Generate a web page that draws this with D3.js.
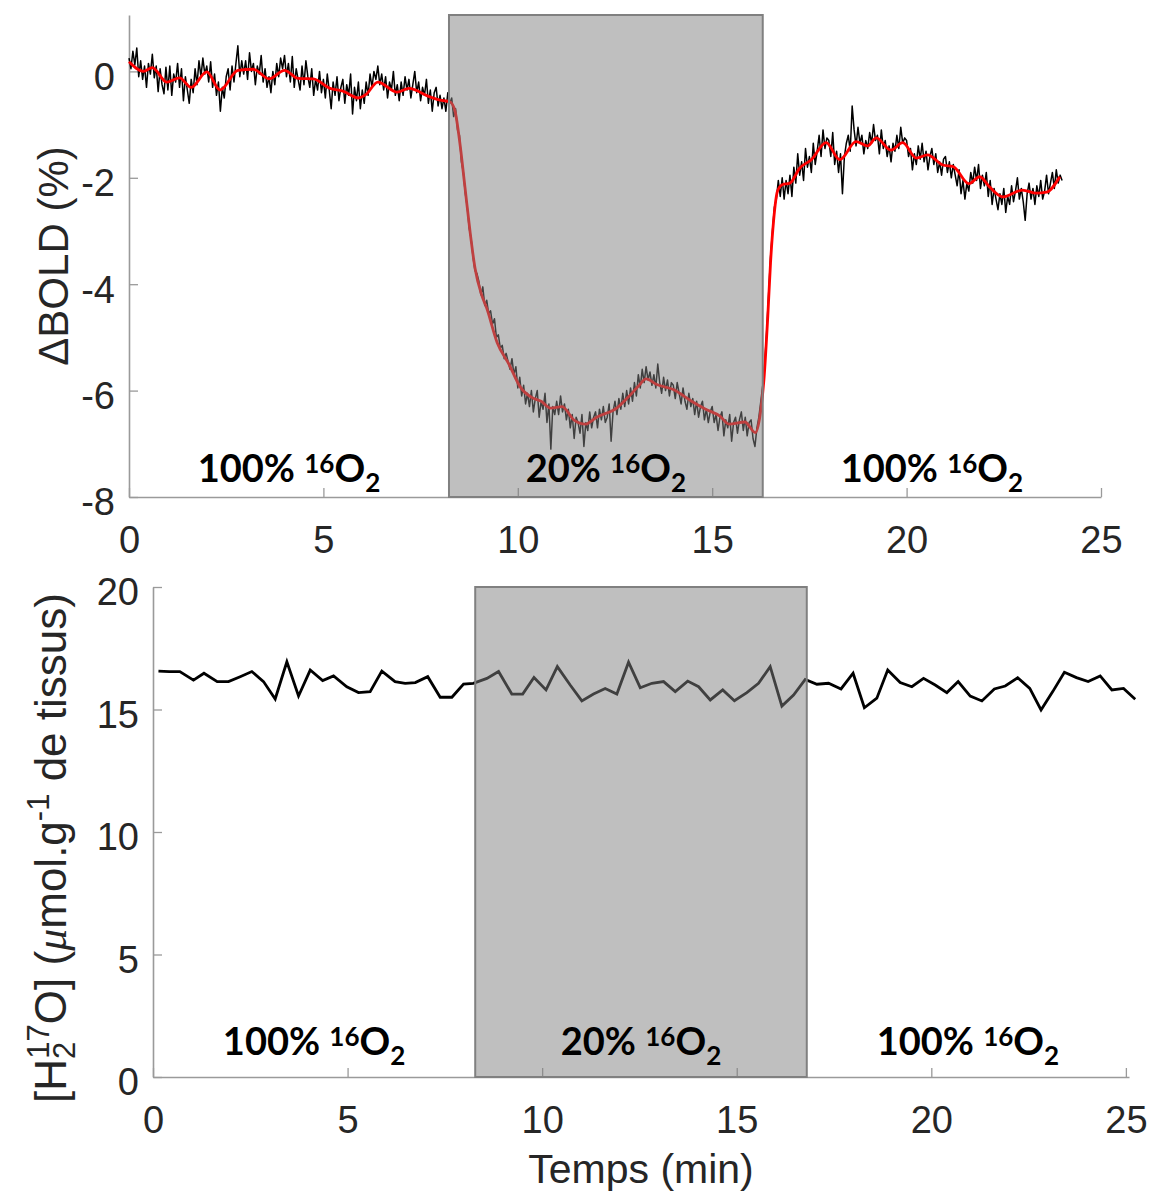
<!DOCTYPE html>
<html><head><meta charset="utf-8">
<script src="https://cdn.jsdelivr.net/npm/d3@7"></script>
<style>body{margin:0;background:#fff}text{white-space:pre}</style>
</head><body>
<svg id="c" width="1152" height="1196"></svg>
<script>
// ---- Data ----
const boldStep = 0.05; // min between BOLD samples, starting at t = 0
const boldValues = [
 0.25,0.05,0.38,0.12,0.44,-0.1,0.2,-0.15,0.1,-0.3,0.15,-0.05,0.32,-0.12,0.1,-0.38,0.05,-0.25,-0.42,0.08,
 -0.35,0.1,-0.45,-0.05,-0.2,0.15,-0.3,0.05,-0.55,-0.1,-0.35,-0.6,-0.15,-0.4,0.05,-0.25,0.2,-0.1,0.25,-0.05,
 0.1,-0.2,0.18,-0.3,-0.05,-0.45,-0.2,-0.75,-0.3,-0.5,-0.1,0.05,-0.35,0.1,-0.2,0.15,0.48,-0.1,0.2,-0.05,
 0.2,-0.15,0.35,0.0,0.15,-0.25,0.1,-0.05,0.3,-0.2,0.05,-0.3,-0.1,-0.4,0.0,-0.25,0.15,-0.1,0.25,0.05,
 0.3,-0.1,0.15,-0.2,0.28,-0.3,0.05,-0.15,-0.35,0.1,-0.25,0.2,-0.1,-0.3,0.05,-0.45,-0.15,-0.35,0.0,-0.4,
 -0.15,-0.5,-0.05,-0.35,-0.7,-0.2,-0.45,-0.1,-0.55,-0.3,-0.15,-0.6,-0.25,-0.45,-0.05,-0.8,-0.3,-0.55,-0.2,-0.7,
 -0.35,-0.6,-0.2,-0.45,-0.05,-0.3,0.0,-0.15,0.1,-0.25,-0.05,-0.35,-0.1,-0.5,-0.2,-0.35,0.0,-0.45,-0.25,-0.55,
 -0.2,-0.45,-0.1,-0.35,-0.15,-0.5,-0.25,0.0,-0.4,-0.2,-0.55,-0.3,-0.45,-0.15,-0.6,-0.35,-0.75,-0.4,-0.3,-0.65,
 -0.45,-0.7,-0.5,-0.75,-0.4,-0.6,-0.5,-0.85,-0.7,-1.1,-1.2,-1.7,-1.9,-2.3,-2.55,-2.95,-3.15,-3.5,-3.75,-3.8,
 -3.95,-4.2,-4.05,-4.4,-4.3,-4.55,-4.5,-4.75,-4.65,-5.0,-4.95,-5.2,-5.15,-5.4,-5.3,-5.45,-5.6,-5.4,-5.7,-5.55,
 -5.95,-5.75,-6.1,-5.9,-6.25,-6.05,-6.3,-6.0,-6.4,-6.15,-6.0,-6.5,-6.2,-6.35,-6.05,-6.6,-6.25,-7.1,-6.3,-6.45,
 -6.2,-6.45,-6.1,-6.4,-6.25,-6.55,-6.35,-6.7,-6.45,-6.9,-6.5,-6.6,-6.8,-6.45,-7.05,-6.6,-6.75,-6.4,-6.7,-6.5,
 -6.4,-6.7,-6.35,-6.55,-6.3,-6.6,-6.5,-6.25,-6.95,-6.4,-6.2,-6.45,-6.15,-6.35,-6.05,-6.3,-6.0,-6.25,-5.95,-6.2,
 -5.85,-6.1,-5.7,-5.95,-5.6,-5.85,-5.55,-5.8,-5.65,-5.9,-5.7,-5.95,-5.5,-5.85,-6.05,-5.75,-6.0,-5.8,-6.1,-5.85,
 -5.9,-6.15,-5.85,-6.05,-6.25,-5.95,-6.2,-6.35,-6.05,-6.3,-6.15,-6.45,-6.2,-6.5,-6.3,-6.2,-6.55,-6.35,-6.6,-6.4,
 -6.3,-6.6,-6.45,-6.75,-6.5,-6.4,-6.85,-6.55,-6.7,-6.45,-6.95,-6.6,-6.5,-6.8,-6.55,-6.4,-6.75,-6.5,-6.85,-6.6,
 -6.55,-6.9,-7.05,-6.7,-6.5,-6.2,-5.9,-5.5,-4.9,-4.2,-3.5,-3.0,-2.55,-2.4,-2.05,-2.35,-2.0,-2.4,-2.05,-2.3,
 -1.95,-2.35,-1.8,-2.1,-1.55,-1.95,-1.7,-2.05,-1.45,-1.8,-1.6,-1.9,-1.35,-1.75,-1.5,-1.2,-1.6,-1.1,-1.45,-1.25,
 -1.3,-1.6,-1.15,-1.75,-1.5,-1.9,-1.55,-2.3,-1.6,-1.35,-1.2,-1.5,-0.65,-1.1,-1.4,-1.05,-1.35,-1.2,-1.55,-1.3,
 -1.45,-1.15,-1.35,-1.0,-1.3,-1.2,-1.55,-1.1,-1.45,-1.3,-1.6,-1.4,-1.7,-1.35,-1.5,-1.2,-1.45,-1.05,-1.35,-1.25,
 -1.3,-1.6,-1.45,-1.85,-1.55,-1.75,-1.4,-1.65,-1.35,-1.7,-1.5,-1.85,-1.6,-1.45,-1.75,-1.55,-1.9,-1.7,-1.95,-1.65,
 -1.6,-1.9,-1.7,-2.0,-1.75,-1.95,-2.15,-1.85,-2.3,-2.05,-2.4,-2.1,-2.25,-1.9,-2.1,-1.8,-2.05,-1.75,-2.2,-1.95,
 -2.15,-1.9,-2.35,-2.05,-2.5,-2.2,-2.4,-2.6,-2.3,-2.5,-2.2,-2.65,-2.35,-2.5,-2.15,-2.45,-2.25,-2.0,-2.4,-2.2,
 -2.45,-2.8,-2.3,-2.1,-2.4,-2.2,-2.5,-2.15,-2.35,-2.05,-2.4,-2.25,-1.95,-2.3,-2.1,-1.9,-2.2,-1.85,-2.1,-1.95,
 -2.05
];
const smoothT = [0,0.37,0.6,0.97,1.3,1.6,2.0,2.34,2.8,3.2,3.6,4.0,4.35,4.74,5.17,5.5,5.9,6.1,6.4,6.9,7.2,7.74,8.0,8.25,8.38,8.5,8.64,8.77,8.9,9.07,9.2,9.47,9.77,10.06,10.36,10.6,10.85,11.14,11.44,11.74,12.03,12.56,12.83,13.1,13.3,13.56,14.0,14.47,14.83,15.2,15.43,15.84,16.11,16.24,16.33,16.43,16.5,16.58,16.68,16.8,17.0,17.25,17.55,17.93,18.28,18.7,19.0,19.22,19.6,19.9,20.25,20.54,20.93,21.2,21.6,21.88,22.13,22.47,22.98,23.34,23.6,23.94];
const smoothV = [0.18,0.0,0.07,-0.2,-0.12,-0.3,-0.01,-0.35,0.02,0.04,-0.14,0.02,-0.13,-0.14,-0.32,-0.37,-0.5,-0.43,-0.2,-0.39,-0.32,-0.48,-0.54,-0.57,-0.73,-1.29,-2.17,-3.0,-3.7,-4.2,-4.45,-5.1,-5.5,-5.93,-6.13,-6.2,-6.33,-6.3,-6.55,-6.63,-6.5,-6.32,-6.13,-5.92,-5.78,-5.88,-5.98,-6.2,-6.35,-6.48,-6.63,-6.59,-6.79,-6.42,-5.8,-4.6,-3.6,-2.8,-2.25,-2.13,-2.1,-1.82,-1.66,-1.34,-1.66,-1.32,-1.4,-1.25,-1.48,-1.34,-1.63,-1.57,-1.76,-1.79,-2.11,-1.98,-2.17,-2.36,-2.23,-2.29,-2.27,-1.98];
const h2oT = [0.14,0.42,0.69,1.04,1.31,1.65,1.94,2.24,2.54,2.84,3.14,3.44,3.74,4.04,4.36,4.64,4.98,5.28,5.58,5.88,6.22,6.48,6.74,7.06,7.38,7.68,7.98,8.23,8.58,8.88,9.22,9.5,9.79,10.1,10.39,10.72,11.02,11.32,11.62,11.92,12.22,12.52,12.82,13.12,13.42,13.74,14.02,14.32,14.64,14.94,15.26,15.56,15.86,16.16,16.46,16.76,17.06,17.36,17.68,17.99,18.28,18.6,18.88,19.2,19.5,19.8,20.1,20.4,20.69,21.0,21.3,21.62,21.9,22.22,22.53,22.82,23.12,23.42,23.73,24.03,24.34,24.64,24.94,25.24];
const h2oV = [16.57,16.55,16.55,16.2,16.48,16.14,16.14,16.34,16.55,16.14,15.43,16.95,15.55,16.61,16.18,16.37,15.93,15.69,15.73,16.57,16.14,16.07,16.1,16.34,15.5,15.5,16.04,16.07,16.27,16.55,15.63,15.63,16.31,15.8,16.75,16.0,15.35,15.63,15.86,15.63,16.93,15.89,16.07,16.14,15.73,16.16,15.93,15.39,15.8,15.36,15.69,16.07,16.75,15.14,15.59,16.23,16.03,16.07,15.84,16.48,15.07,15.46,16.61,16.1,15.93,16.27,16.0,15.69,16.14,15.55,15.35,15.84,15.96,16.3,15.86,14.98,15.73,16.52,16.3,16.14,16.37,15.8,15.86,15.42];
const topPhases = [0, 8.23, 16.3, 25];
const bottomPhases = [0, 8.28, 16.8, 25.08];
const phaseLabels = ["100%", "20%", "100%"];
const topXTicks = [0,5,10,15,20,25];
const topYTicks = [-8,-6,-4,-2,0];
const botXTicks = [0,5,10,15,20,25];
const botYTicks = [0,5,10,15,20];

// ---- Drawing ----
const svg = d3.select("#c");
const sansFont = "'Liberation Sans', Arial, sans-serif";
const labelFont = "Lato, 'Open Sans', sans-serif";
const axisGrey = "#9a9a9a", textCol = "#262626";

const x1 = d3.scaleLinear().domain([0,25]).range([129,1101]);
const y1 = d3.scaleLinear().domain([-8,1.06]).range([497,15]);
const x2 = d3.scaleLinear().domain([0,25.08]).range([153,1129]);
const y2 = d3.scaleLinear().domain([0,20]).range([1077,587]);

function drawAxes(x, y, xt, yt) {
  const fmt = d => String(d);
  const gx = svg.append("g").attr("transform", `translate(0,${y.range()[0]})`)
    .call(d3.axisBottom(x).tickValues(xt).tickSize(-9).tickSizeOuter(0).tickPadding(29).tickFormat(fmt));
  const gy = svg.append("g").attr("transform", `translate(${x.range()[0]},0)`)
    .call(d3.axisLeft(y).tickValues(yt).tickSize(-9).tickSizeOuter(0).tickPadding(14).tickFormat(fmt));
  gy.selectAll(".tick text").attr("dy", "0.47em");
  [gx, gy].forEach(g => {
    g.select(".domain").attr("stroke", axisGrey).attr("stroke-width", 1.6);
    g.selectAll(".tick line").attr("stroke", axisGrey).attr("stroke-width", 1.3);
    g.selectAll(".tick text").attr("fill", textCol).style("font-family", sansFont).style("font-size", "38px");
  });
}

function phaseLabel(cx, baseline) {
  return function(pct) {
    const t = svg.append("text").attr("x", cx).attr("y", baseline).attr("text-anchor", "middle")
      .style("font-family", labelFont).style("font-weight", 700).style("font-size", "38px").attr("fill", "#000");
    t.append("tspan").text(pct + " ");
    t.append("tspan").attr("dy", -9).style("font-size", "26px").text("16");
    t.append("tspan").attr("dy", 9).text("O");
    t.append("tspan").attr("dy", 10).style("font-size", "26px").text("2");
  };
}

function overlay(x, y, a, b) {
  svg.append("rect").attr("x", x(a)).attr("y", y.range()[1]).attr("width", x(b) - x(a))
    .attr("height", y.range()[0] - y.range()[1])
    .attr("fill", "#808080").attr("fill-opacity", 0.5)
    .attr("stroke", "#808080").attr("stroke-width", 2);
}

// Top panel
drawAxes(x1, y1, topXTicks, topYTicks);
const boldLine = d3.line().x((d, i) => x1(i * boldStep)).y(d => y1(d));
svg.append("path").datum(boldValues).attr("d", boldLine)
  .attr("fill", "none").attr("stroke", "#000").attr("stroke-width", 1.5).attr("stroke-linejoin", "round");
const smoothLine = d3.line().curve(d3.curveMonotoneX).x(d => x1(d[0])).y(d => y1(d[1]));
svg.append("path").datum(d3.zip(smoothT, smoothV)).attr("d", smoothLine)
  .attr("fill", "none").attr("stroke", "#ff0000").attr("stroke-width", 2.8).attr("stroke-linejoin", "round");
overlay(x1, y1, topPhases[1], topPhases[2]);
phaseLabels.forEach((p, i) => phaseLabel(x1((topPhases[i] + topPhases[i+1]) / 2), 482)(p));

svg.append("text").attr("transform", "translate(68,256) rotate(-90)").attr("text-anchor", "middle")
  .attr("fill", textCol).style("font-family", sansFont).style("font-size", "42px").text("ΔBOLD (%)");

// Bottom panel
drawAxes(x2, y2, botXTicks, botYTicks);
const h2oLine = d3.line().x(d => x2(d[0])).y(d => y2(d[1]));
svg.append("path").datum(d3.zip(h2oT, h2oV)).attr("d", h2oLine)
  .attr("fill", "none").attr("stroke", "#000").attr("stroke-width", 2.8).attr("stroke-linejoin", "miter");
overlay(x2, y2, bottomPhases[1], bottomPhases[2]);
phaseLabels.forEach((p, i) => phaseLabel(x2((bottomPhases[i] + bottomPhases[i+1]) / 2), 1055)(p));

const yl = svg.append("text").attr("transform", "translate(66,848) rotate(-90)").attr("text-anchor", "middle")
  .attr("fill", textCol).style("font-family", sansFont).style("font-size", "44px");
yl.append("tspan").text("[H");
yl.append("tspan").attr("dy", 9).style("font-size", "31px").text("2");
yl.append("tspan").attr("dx", -17).attr("dy", -26).style("font-size", "31px").text("17");
yl.append("tspan").attr("dy", 17).text("O] (");
yl.append("tspan").style("font-family", "'Liberation Serif', serif").style("font-style", "italic").text("μ");
yl.append("tspan").text("mol.g");
yl.append("tspan").attr("dy", -17).style("font-size", "31px").text("-1");
yl.append("tspan").attr("dy", 17).text(" de tissus)");

svg.append("text").attr("x", (x2.range()[0] + x2.range()[1]) / 2).attr("y", 1183).attr("text-anchor", "middle")
  .attr("fill", textCol).style("font-family", sansFont).style("font-size", "41px").text("Temps (min)");
</script>
</body></html>
